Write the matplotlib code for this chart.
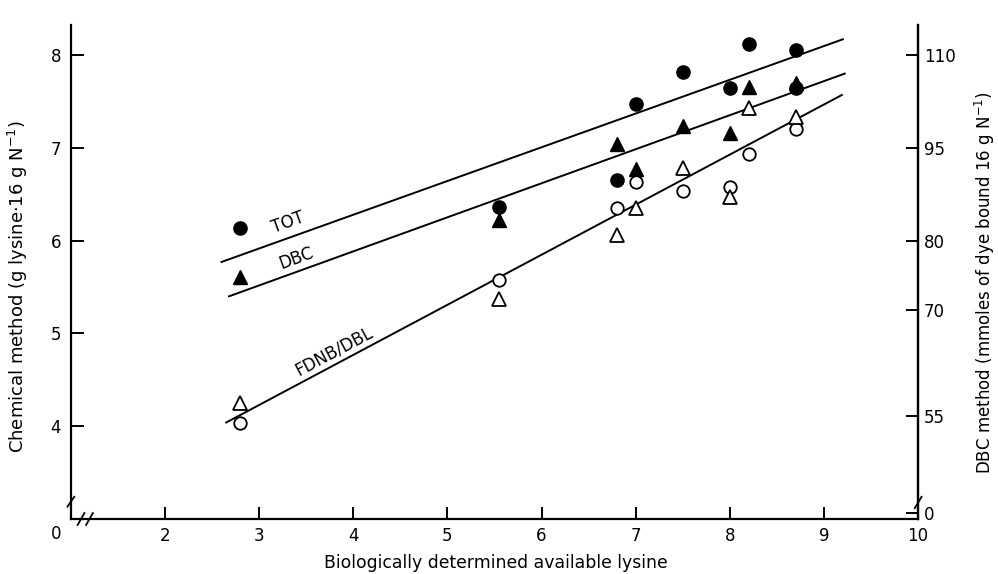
import matplotlib
matplotlib.use("Agg")
import matplotlib.pyplot as plt
import numpy as np

# ---- data ----
tot_x = [2.8, 5.55, 6.8, 7.0, 7.5, 8.0, 8.2, 8.7, 8.7]
tot_y = [6.14, 6.36, 6.65, 7.47, 7.82, 7.65, 8.12, 8.05, 7.64]

dbc_x = [2.8, 5.55, 6.8, 7.0, 7.5, 8.0, 8.2, 8.7]
dbc_y = [5.61, 6.22, 7.04, 6.77, 7.24, 7.16, 7.66, 7.70]

fdnb_x = [2.8, 5.55, 6.8, 7.0, 7.5, 8.0, 8.2, 8.7]
fdnb_y = [4.04, 5.58, 6.35, 6.63, 6.53, 6.58, 6.93, 7.20]

dbl_x = [2.8, 5.55, 6.8, 7.0, 7.5, 8.0, 8.2, 8.7]
dbl_y = [4.25, 5.37, 6.06, 6.35, 6.78, 6.47, 7.43, 7.33]

# regression lines: (x_start, x_end), (y_start, y_end)
tot_line_x = [2.6, 9.2]
tot_line_y = [5.77, 8.17]
dbc_line_x = [2.68, 9.22]
dbc_line_y = [5.40, 7.80]
fdnb_line_x = [2.65, 9.19]
fdnb_line_y = [4.04, 7.57]

x_ticks = [2, 3, 4, 5, 6, 7, 8, 9, 10]
left_ticks = [4, 5, 6, 7, 8]
right_tick_labels = ["110", "95", "80", "70", "55", "0"]
right_tick_pos = [8.0, 7.0, 6.0, 5.25, 4.11, 3.06]

FONT = "DejaVu Sans"
plt.rcParams["font.family"] = FONT

fig = plt.figure(figsize=(9.98, 5.74), dpi=100)
ax = fig.add_axes([0.071, 0.0958, 0.849, 0.860])

ax.set_xlim(1.0, 10.0)
ax.set_ylim(3.0, 8.32)

lw = 1.4
ax.plot(tot_line_x, tot_line_y, color="black", lw=lw)
ax.plot(dbc_line_x, dbc_line_y, color="black", lw=lw)
ax.plot(fdnb_line_x, fdnb_line_y, color="black", lw=lw)

ax.plot(tot_x, tot_y, "o", ms=9.5, color="black", mec="black", ls="none", zorder=3)
ax.plot(dbc_x, dbc_y, "^", ms=9.5, color="black", mec="black", ls="none", zorder=3)
ax.plot(fdnb_x, fdnb_y, "o", ms=9, mfc="white", mec="black", mew=1.3, ls="none", zorder=3)
ax.plot(dbl_x, dbl_y, "^", ms=9.5, mfc="white", mec="black", mew=1.3, ls="none", zorder=3)

ax.text(3.31, 6.19, "TOT", fontsize=12, rotation=20, ha="center", va="center")
ax.text(3.39, 5.81, "DBC", fontsize=12, rotation=20, ha="center", va="center")
ax.text(3.80, 4.81, "FDNB/DBL", fontsize=12, rotation=28, ha="center", va="center")

ax.spines["top"].set_visible(False)
for s in ["left", "bottom", "right"]:
    ax.spines[s].set_linewidth(1.6)

ax.set_xticks(x_ticks)
ax.set_xticklabels([str(v) for v in x_ticks])
ax.set_yticks(left_ticks)
ax.set_yticklabels([str(v) for v in left_ticks])
ax.tick_params(axis="both", direction="in", length=9, width=1.4, labelsize=12)
ax.tick_params(axis="x", pad=6)
ax.tick_params(axis="y", pad=7)

ax2 = ax.twinx()
ax2.set_ylim(ax.get_ylim())
ax2.set_yticks(right_tick_pos)
ax2.set_yticklabels(right_tick_labels)
ax2.tick_params(axis="y", direction="in", length=9, width=1.4, labelsize=12, pad=4)
for s in ["top", "left", "bottom"]:
    ax2.spines[s].set_visible(False)
ax2.spines["right"].set_linewidth(1.6)

ax.set_xlabel("Biologically determined available lysine", fontsize=12.4)
ax.xaxis.label.set_va("center")
ax.xaxis.set_label_coords(0.502, -0.089)
ax.set_ylabel("Chemical method (g lysine\u00b716 g N$^{-1}$)", fontsize=13)
ax.yaxis.label.set_va("center")
ax.yaxis.set_label_coords(-0.063, 0.47)
ax2.set_ylabel("DBC method (mmoles of dye bound 16 g N$^{-1}$)", fontsize=12)
ax2.yaxis.label.set_va("center")
ax2.yaxis.set_label_coords(1.079, 0.48)

# origin label and axis break marks
ax.text(-0.017, -0.03, "0", transform=ax.transAxes, fontsize=12, ha="center", va="center")
tr = ax.transAxes
for dx in (0.0, 0.010):
    ax.plot([0.008 + dx, 0.016 + dx], [-0.012, 0.012], transform=tr, color="black", lw=1.3, clip_on=False)
ax.plot([-0.004, 0.004], [0.025, 0.045], transform=tr, color="black", lw=1.3, clip_on=False)
ax.plot([0.996, 1.004], [0.022, 0.045], transform=tr, color="black", lw=1.3, clip_on=False)

fig.savefig("out.png", dpi=100)
